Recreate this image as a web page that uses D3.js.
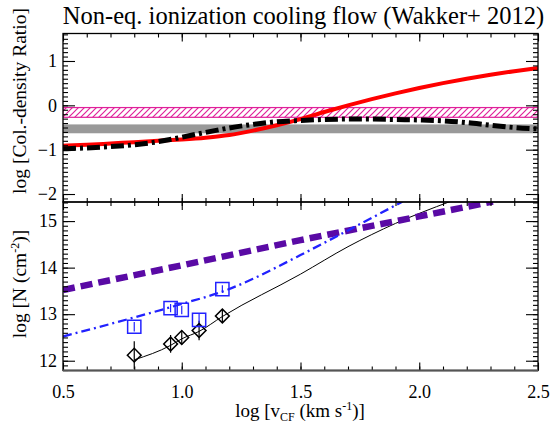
<!DOCTYPE html>
<html>
<head>
<meta charset="utf-8">
<script src="https://cdn.jsdelivr.net/npm/d3@7"></script>
<style>
  body { margin: 0; background: #fff; }
</style>
</head>
<body>
<script>
const w = 550;
const h = 426;
const serif = "'Liberation Serif', 'Times New Roman', serif";

// ---- top panel: column-density ratio vs log v_CF
const ratioX    = [0.5, 0.6, 0.7, 0.8, 0.9, 1.0, 1.1, 1.2, 1.3, 1.4, 1.5, 1.6, 1.7, 1.8, 1.9, 2.0, 2.1, 2.2, 2.3, 2.4, 2.5];
const ratioRed  = [-0.91, -0.89, -0.86, -0.83, -0.80, -0.77, -0.73, -0.67, -0.57, -0.45, -0.31, -0.15, 0.0, 0.14, 0.27, 0.39, 0.50, 0.60, 0.69, 0.77, 0.84];
const ratioDash = [-0.98, -0.96, -0.93, -0.89, -0.82, -0.72, -0.61, -0.51, -0.43, -0.37, -0.34, -0.32, -0.31, -0.31, -0.32, -0.33, -0.35, -0.39, -0.45, -0.50, -0.53];
const hatchBand = [-0.27, -0.05];
const grayBand  = [-0.63, -0.43];

// ---- bottom panel: log N vs log v_CF
const purpleX = [0.5, 1.0, 1.5, 2.0, 2.31];
const purpleY = [13.52, 14.05, 14.59, 15.10, 15.42];
const blueX = [0.5, 0.8, 1.0, 1.19, 1.3, 1.4, 1.5, 1.7, 1.93];
const blueY = [12.52, 12.93, 13.22, 13.52, 13.76, 14.01, 14.27, 14.80, 15.42];
const thinX = [0.8, 0.953, 1.0, 1.073, 1.171, 1.5, 1.7, 1.9, 2.13];
const thinY = [12.02, 12.33, 12.47, 12.63, 12.95, 13.86, 14.45, 14.95, 15.42];

const obsX    = [0.8, 0.953, 1.0, 1.073, 1.171];
const diamY   = [12.12, 12.36, 12.50, 12.65, 12.96];
const diamE   = [0.30, 0.19, 0.15, 0.21, 0.13];
const squareY = [12.73, 13.13, 13.09, 12.88, 13.54];
const squareE = [0.10, 0.09, 0.09, 0.13, 0.08];

const xMajor = [0.5, 1.0, 1.5, 2.0, 2.5];
const xMinor = d3.range(6, 25).map(d => d / 10);
const topMajor = [-2, -1, 0, 1];
const topMinor = d3.range(-21, 17).map(d => d / 10);
const botMajor = [12, 13, 14, 15];
const botMinor = d3.range(118, 155).map(d => d / 10);

const x = d3.scaleLinear().domain([0.5, 2.5]).range([63, 538]);
const yTop = d3.scaleLinear().domain([-2.18, 1.62]).range([202, 33.5]);
const yBot = d3.scaleLinear().domain([11.79, 15.41]).range([370.5, 202]);

let svg = d3.select("body")
            .append("svg")
                .attr("width", w)
                .attr("height", h)
                .attr("font-family", serif);

let defs = svg.append("defs");
defs.append("clipPath").attr("id", "clipTop")
    .append("rect").attr("x", 63).attr("y", 33.5).attr("width", 475).attr("height", 168.5);
defs.append("clipPath").attr("id", "clipBot")
    .append("rect").attr("x", 63).attr("y", 202).attr("width", 475).attr("height", 168.5);
let pat = defs.append("pattern").attr("id", "hatch")
    .attr("patternUnits", "userSpaceOnUse")
    .attr("width", 6).attr("height", 6);
pat.append("path").attr("d", "M-1,1 l2,-2 M0,6 l6,-6 M5,7 l2,-2")
    .attr("stroke", "#e0209a").attr("stroke-width", 1.2);

// title
svg.append("text")
    .attr("x", 303.5).attr("y", 24)
    .attr("text-anchor", "middle")
    .attr("font-family", serif)
    .style("font-size", "24.5px")
    .text("Non-eq. ionization cooling flow (Wakker+ 2012)");

// ---------- top panel
let gTop = svg.append("g").attr("clip-path", "url(#clipTop)");

gTop.append("rect")
    .attr("x", x(0.5)).attr("width", x(2.5) - x(0.5))
    .attr("y", yTop(grayBand[1])).attr("height", yTop(grayBand[0]) - yTop(grayBand[1]))
    .attr("fill", "#999");

gTop.append("rect")
    .attr("x", x(0.5)).attr("width", x(2.5) - x(0.5))
    .attr("y", yTop(hatchBand[1])).attr("height", yTop(hatchBand[0]) - yTop(hatchBand[1]))
    .attr("fill", "url(#hatch)")
    .attr("stroke", "#e0209a").attr("stroke-width", 1.2);

let lineTop = (ys) => d3.line()
    .x((d, i) => x(ratioX[i]))
    .y(d => yTop(d))
    .curve(d3.curveMonotoneX)(ys);

gTop.append("path")
    .attr("d", lineTop(ratioRed))
    .attr("fill", "none").attr("stroke", "#ff0000").attr("stroke-width", 4);

gTop.append("path")
    .attr("d", lineTop(ratioDash))
    .attr("fill", "none").attr("stroke", "#000").attr("stroke-width", 5)
    .attr("stroke-dasharray", "13,4,3,4");

// ---------- bottom panel
let gBot = svg.append("g").attr("clip-path", "url(#clipBot)");

let lineBot = (xs, ys) => d3.line()
    .x((d, i) => x(xs[i]))
    .y(d => yBot(d))
    .curve(d3.curveMonotoneX)(ys);

gBot.append("path")
    .attr("d", lineBot(thinX, thinY))
    .attr("fill", "none").attr("stroke", "#000").attr("stroke-width", 1);

gBot.append("path")
    .attr("d", lineBot(purpleX, purpleY))
    .attr("fill", "none").attr("stroke", "#5a0aa5").attr("stroke-width", 6.5)
    .attr("stroke-dasharray", "12,6");

gBot.append("path")
    .attr("d", lineBot(blueX, blueY))
    .attr("fill", "none").attr("stroke", "#2222ff").attr("stroke-width", 2.3)
    .attr("stroke-dasharray", "9,4,2,4");

// error bars
gBot.selectAll(".ebD")
    .data(obsX)
    .enter()
    .append("line")
        .attr("x1", d => x(d)).attr("x2", d => x(d))
        .attr("y1", (d, i) => yBot(diamY[i] + diamE[i]))
        .attr("y2", (d, i) => yBot(diamY[i] - diamE[i]))
        .attr("stroke", "#000").attr("stroke-width", 1.2);

gBot.selectAll(".ebS")
    .data(obsX)
    .enter()
    .append("line")
        .attr("x1", d => x(d)).attr("x2", d => x(d))
        .attr("y1", (d, i) => yBot(squareY[i] + squareE[i]))
        .attr("y2", (d, i) => yBot(squareY[i] - squareE[i]))
        .attr("stroke", "#2222ff").attr("stroke-width", 1.2);

gBot.selectAll(".diam")
    .data(obsX)
    .enter()
    .append("path")
        .attr("d", d3.symbol().type(d3.symbolSquare).size(95))
        .attr("transform", (d, i) => "translate(" + x(d) + "," + yBot(diamY[i]) + ") rotate(45)")
        .attr("fill", "none").attr("stroke", "#000").attr("stroke-width", 1.5);

gBot.selectAll(".sq")
    .data(obsX)
    .enter()
    .append("path")
        .attr("d", d3.symbol().type(d3.symbolSquare).size(175))
        .attr("transform", (d, i) => "translate(" + x(d) + "," + yBot(squareY[i]) + ")")
        .attr("fill", "none").attr("stroke", "#2222ff").attr("stroke-width", 1.5);

// ---------- axes
function addAxis(axis, tx, ty) {
    let g = svg.append("g")
        .attr("transform", "translate(" + tx + "," + ty + ")")
        .call(axis);
    g.attr("font-family", serif);
    g.select(".domain").remove();
    g.selectAll(".tick line").attr("stroke", "#000").attr("stroke-width", 1.1);
    g.selectAll("text")
        .attr("font-family", serif)
        .style("font-size", "18px")
        .attr("fill", "#000");
    return g;
}

const intFmt = d3.format("d");

addAxis(d3.axisBottom(x).tickValues(xMajor).tickSize(-8).tickPadding(15)
    .tickFormat(d3.format(".1f")), 0, 370.5);
addAxis(d3.axisBottom(x).tickValues(xMinor).tickSize(-4).tickFormat(""), 0, 370.5);
addAxis(d3.axisTop(x).tickValues(xMajor).tickSize(-8).tickFormat(""), 0, 202);
addAxis(d3.axisTop(x).tickValues(xMinor).tickSize(-4).tickFormat(""), 0, 202);
addAxis(d3.axisBottom(x).tickValues(xMajor).tickSize(-8).tickFormat(""), 0, 202);
addAxis(d3.axisBottom(x).tickValues(xMinor).tickSize(-4).tickFormat(""), 0, 202);
addAxis(d3.axisTop(x).tickValues(xMajor).tickSize(-8).tickFormat(""), 0, 33.5);
addAxis(d3.axisTop(x).tickValues(xMinor).tickSize(-4).tickFormat(""), 0, 33.5);

addAxis(d3.axisLeft(yTop).tickValues(topMajor).tickSize(-12).tickPadding(6).tickFormat(intFmt), 63, 0);
addAxis(d3.axisLeft(yBot).tickValues(botMajor).tickSize(-12).tickPadding(6).tickFormat(intFmt), 63, 0);
addAxis(d3.axisLeft(yTop).tickValues(topMinor).tickSize(-5).tickFormat(""), 63, 0);
addAxis(d3.axisLeft(yBot).tickValues(botMinor).tickSize(-5).tickFormat(""), 63, 0);
addAxis(d3.axisRight(yTop).tickValues(topMajor).tickSize(-12).tickFormat(""), 538, 0);
addAxis(d3.axisRight(yBot).tickValues(botMajor).tickSize(-12).tickFormat(""), 538, 0);
addAxis(d3.axisRight(yTop).tickValues(topMinor).tickSize(-5).tickFormat(""), 538, 0);
addAxis(d3.axisRight(yBot).tickValues(botMinor).tickSize(-5).tickFormat(""), 538, 0);

// frames
svg.append("rect").attr("x", 63).attr("y", 33.5).attr("width", 475).attr("height", 168.5)
    .attr("fill", "none").attr("stroke", "#000").attr("stroke-width", 1.3);
svg.append("rect").attr("x", 63).attr("y", 202).attr("width", 475).attr("height", 168.5)
    .attr("fill", "none").attr("stroke", "#000").attr("stroke-width", 1.3);
svg.append("line").attr("x1", 63).attr("x2", 538).attr("y1", 370.5).attr("y2", 370.5)
    .attr("stroke", "#555").attr("stroke-width", 2);

// axis titles
let xt = svg.append("text")
    .attr("x", 300).attr("y", 417)
    .attr("text-anchor", "middle")
    .attr("font-family", serif)
    .style("font-size", "19px");
xt.append("tspan").text("log [v");
xt.append("tspan").attr("dy", 4).style("font-size", "12px").text("CF");
xt.append("tspan").attr("dy", -4).text(" (km s");
xt.append("tspan").attr("dy", -7).style("font-size", "12px").text("-1");
xt.append("tspan").attr("dy", 7).text(")]");

svg.append("text")
    .attr("transform", "translate(26,101) rotate(-90)")
    .attr("text-anchor", "middle")
    .attr("font-family", serif)
    .style("font-size", "19.5px")
    .text("log [Col.-density Ratio]");

let yt = svg.append("text")
    .attr("transform", "translate(26,284) rotate(-90)")
    .attr("text-anchor", "middle")
    .attr("font-family", serif)
    .style("font-size", "19.5px");
yt.append("tspan").text("log [N (cm");
yt.append("tspan").attr("dy", -7).style("font-size", "12px").text("-2");
yt.append("tspan").attr("dy", 7).text(")]");
</script>
</body>
</html>
